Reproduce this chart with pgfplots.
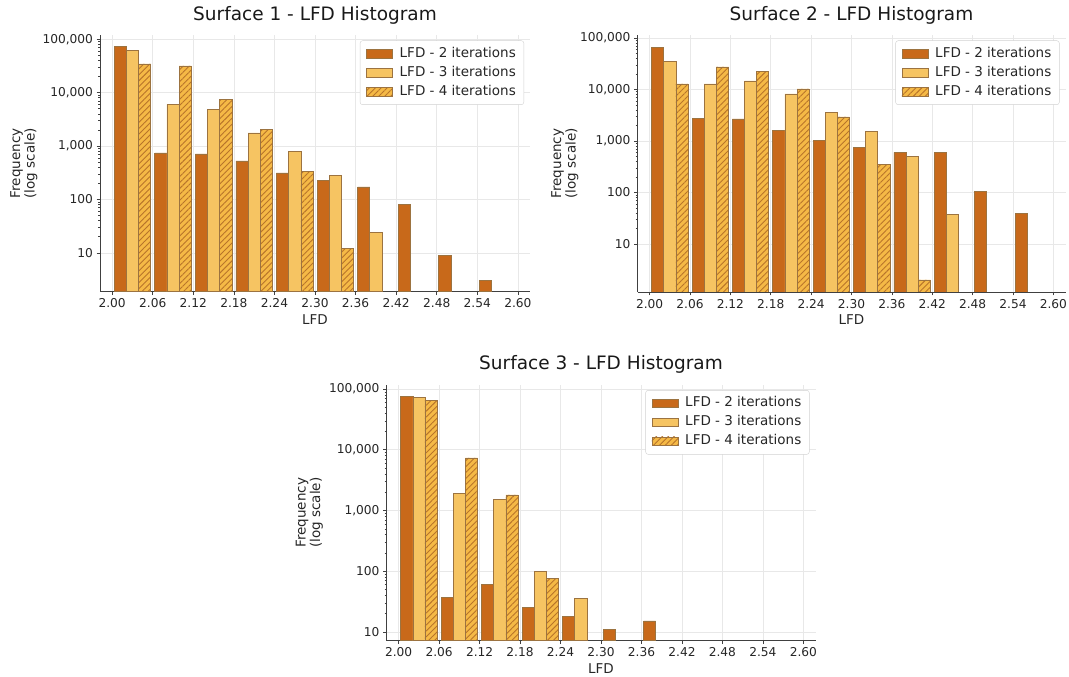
\documentclass[border=0pt]{standalone}
\usepackage{fontspec}
\setmainfont{DejaVu Sans}
\usepackage{pgfplots}
\pgfplotsset{compat=1.18}
\usetikzlibrary{patterns.meta}

\definecolor{c2}{HTML}{C8691A}
\definecolor{c3}{HTML}{F6C462}
\definecolor{c4}{HTML}{F5B946}
\definecolor{hatchc}{HTML}{B8742A}
\definecolor{edgec}{HTML}{9C7340}

\pgfplotsset{
  every axis/.append style={
    scale only axis,
    xmin=1.982, xmax=2.618,
    axis x line*=bottom, axis y line*=left,
    axis line style={draw=black!75, line width=0.8bp},
    tick align=outside, major tick length=3.5bp, minor tick length=2bp,
    tick style={draw=black!75, line width=0.6bp},
    grid=major, major grid style={draw=black!9, line width=0.6bp},
    xtick={2,2.06,2.12,2.18,2.24,2.30,2.36,2.42,2.48,2.54,2.60},
    xticklabels={2.00,2.06,2.12,2.18,2.24,2.30,2.36,2.42,2.48,2.54,2.60},
    ytick={10,100,1000,10000,100000},
    yticklabels={10,100,{1,000},{10,000},{100,000}},
    ticklabel style={font=\fontsize{12.2bp}{14bp}\selectfont, text=black!85},
    xlabel={LFD}, ylabel={Frequency\\(log scale)},
    label style={font=\fontsize{13.5bp}{14.5bp}\selectfont, text=black!85},
    xlabel style={at={(axis description cs:0.5,0)}, anchor=base, yshift=-32.5bp},
    ylabel style={align=center, anchor=center},
    title style={font=\fontsize{18.5bp}{20bp}\selectfont, text=black!90, at={(axis description cs:0.5,1)}, anchor=base, yshift=9bp},
    legend style={at={(axis description cs:1,1)}, xshift=-6bp, yshift=-5.5bp, anchor=north east,
      draw=black!18, rounded corners=2.5bp, fill=white,
      font=\fontsize{13.5bp}{15bp}\selectfont, text=black!85, row sep=2bp,
      inner xsep=6bp, inner ysep=4.5bp,
      nodes={inner sep=2bp, text height=10bp, text depth=3bp}},
    legend cell align=left,
  },
  boxlegend/.style={legend image code/.code={\draw[##1, sharp corners] (0bp,-4.4bp) rectangle (26bp,4.4bp); \path (31bp,0bp);}},
  s2/.style={ybar, bar width=0.018, bar shift=0pt, fill=c2, draw=edgec, line width=0.6bp, boxlegend},
  s3/.style={ybar, bar width=0.018, bar shift=0pt, fill=c3, draw=edgec, line width=0.6bp, boxlegend},
  s4/.style={ybar, bar width=0.018, bar shift=0pt, fill=c4, draw=edgec, line width=0.6bp, boxlegend,
     postaction={pattern={Lines[angle=45,distance=4.2bp,line width=0.9bp]}, pattern color=hatchc}},
}

\begin{document}
\begin{tikzpicture}[x=1bp,y=1bp]
\useasboundingbox (0,0) rectangle (1069,677);

% Surface 1
\begin{axis}[ymode=log, log origin=infty,
  ymin=1.87, ymax=1.2e5,
  at={(100bp,385.3bp)}, anchor=south west, width=430bp, height=256.7bp,
  title={Surface 1 - LFD Histogram},
  ylabel style={at={(axis description cs:-0.177,0.5)}}]
\addplot[s2] coordinates {(2.012,72800) (2.072,745) (2.132,713) (2.192,526) (2.252,313) (2.312,228) (2.372,171) (2.432,80) (2.492,9) (2.552,3)};
\addplot[s3] coordinates {(2.030,62000) (2.090,6010) (2.150,4920) (2.210,1766) (2.270,800) (2.330,279) (2.390,24.4)};
\addplot[s4] coordinates {(2.048,34400) (2.108,31600) (2.168,7360) (2.228,2013) (2.288,336) (2.348,12.2)};
\legend{LFD - 2 iterations, LFD - 3 iterations, LFD - 4 iterations}
\end{axis}

% Surface 2
\begin{axis}[ymode=log, log origin=infty,
  ymin=1.17, ymax=1.14e5,
  at={(637.5bp,385bp)}, anchor=south west, width=428bp, height=257bp,
  title={Surface 2 - LFD Histogram},
  ylabel style={at={(axis description cs:-0.17,0.5)}}]
\addplot[s2] coordinates {(2.012,65900) (2.072,2770) (2.132,2690) (2.192,1600) (2.252,1008) (2.312,760) (2.372,598) (2.432,600) (2.492,104) (2.552,38.7)};
\addplot[s3] coordinates {(2.030,34800) (2.090,12800) (2.150,14700) (2.210,8200) (2.270,3620) (2.330,1528) (2.390,500) (2.450,37)};
\addplot[s4] coordinates {(2.048,12800) (2.108,27400) (2.168,22200) (2.228,10250) (2.288,2940) (2.348,345) (2.408,2)};
\legend{LFD - 2 iterations, LFD - 3 iterations, LFD - 4 iterations}
\end{axis}

% Surface 3
\begin{axis}[ymode=log, log origin=infty,
  ymin=7.2, ymax=1.18e5,
  at={(386.5bp,36.3bp)}, anchor=south west, width=429bp, height=256bp,
  title={Surface 3 - LFD Histogram},
  ylabel style={at={(axis description cs:-0.18,0.5)}}]
\addplot[s2] coordinates {(2.012,75800) (2.072,36.7) (2.132,60.8) (2.192,25.1) (2.252,18.3) (2.312,11.1) (2.372,15.2)};
\addplot[s3] coordinates {(2.030,72000) (2.090,1905) (2.150,1535) (2.210,100) (2.270,36.2)};
\addplot[s4] coordinates {(2.048,65900) (2.108,7350) (2.168,1810) (2.228,77)};
\legend{LFD - 2 iterations, LFD - 3 iterations, LFD - 4 iterations}
\end{axis}
\end{tikzpicture}
\end{document}
